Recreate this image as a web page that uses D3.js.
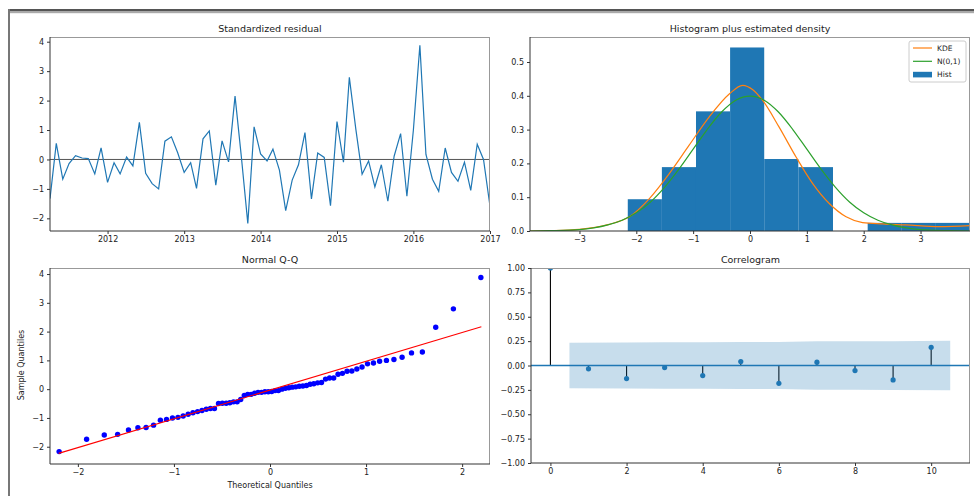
<!DOCTYPE html>
<html lang="en">
<head>
<meta charset="utf-8">
<title>Residual diagnostics</title>
<style>
  body { margin: 0; background: #fff; }
  text { font-family: "DejaVu Sans", sans-serif; }
</style>
</head>
<body>
<svg id="chart"></svg>
<script src="https://cdn.jsdelivr.net/npm/d3@7"></script>
<script>
// monthly standardized residuals, 2011-04 .. 2017-01
const residuals = [
  -1.33, 0.55, -0.67, -0.14, 0.13, 0.05, 0.03, -0.49, 0.39,
  -0.78, -0.11, -0.49, 0.08, -0.22, 1.26, -0.47, -0.82, -1.00, 0.62, 0.77, 0.23,
  -0.44, -0.11, -0.98, 0.70, 0.97, -0.87, 0.63, -0.08, 2.15, 0.10, -2.17, 1.11,
  0.19, -0.05, 0.35, -0.36, -1.74, -0.70, -0.18, 0.91, -1.34, 0.22, 0.07, -1.57,
  1.29, -0.09, 2.79, 1.03, -0.50, -0.05, -0.93, -0.18, -1.42, 0.11, 0.88, -1.25,
  1.00, 3.88, 0.17, -0.67, -1.08, 0.39, -0.44, -0.74, -0.09, -1.05, 0.52, 0.00,
  -1.59
];
const firstMonth = new Date(2011, 3, 1);
const lastMonth = new Date(2017, 0, 1);
const yearTicks = [2012, 2013, 2014, 2015, 2016, 2017];

// histogram (density)
const histEdges = [-2.15, -1.55, -0.95, -0.35, 0.25, 0.85, 1.46, 2.07, 2.67, 3.27, 3.87];
const histDensity = [0.094, 0.189, 0.354, 0.543, 0.213, 0.189, 0, 0.024, 0.024, 0.024];

const kdeX = [-3.87, -3.5, -3.0, -2.5, -2.12, -1.77, -1.42, -1.07, -0.72, -0.36, -0.13, 0.05,
  0.22, 0.51, 0.81, 1.10, 1.39, 1.69, 1.98, 2.33, 2.74, 3.33, 3.87];
const kdeY = [0.000, 0.001, 0.005, 0.019, 0.042, 0.096, 0.170, 0.254, 0.337, 0.406, 0.431, 0.418,
  0.387, 0.308, 0.219, 0.141, 0.082, 0.042, 0.025, 0.021, 0.018, 0.013, 0.016];

const normX = [-3.87, -3.5, -3.0, -2.75, -2.5, -2.25, -2.0, -1.75, -1.5, -1.25, -1.0, -0.75, -0.5, -0.25, 0,
  0.25, 0.5, 0.75, 1.0, 1.25, 1.5, 1.75, 2.0, 2.25, 2.5, 2.75, 3.0, 3.5, 3.87];
const normY = [0.000, 0.001, 0.004, 0.009, 0.018, 0.032, 0.054, 0.086, 0.130, 0.183, 0.242, 0.301, 0.352, 0.387, 0.399,
  0.387, 0.352, 0.301, 0.242, 0.183, 0.130, 0.086, 0.054, 0.032, 0.018, 0.009, 0.004, 0.001, 0.000];

// Q-Q
const qqTheoretical = [
  -2.195, -1.909, -1.725, -1.586, -1.473, -1.375, -1.290, -1.212, -1.141, -1.077,
  -1.015, -0.958, -0.904, -0.852, -0.802, -0.754, -0.708, -0.663, -0.620, -0.578,
  -0.536, -0.496, -0.456, -0.418, -0.380, -0.342, -0.305, -0.268, -0.232, -0.196,
  -0.160, -0.124, -0.088, -0.053, -0.018, 0.018, 0.053, 0.088, 0.124, 0.160,
  0.196, 0.232, 0.268, 0.305, 0.342, 0.380, 0.418, 0.456, 0.496, 0.536,
  0.578, 0.620, 0.663, 0.708, 0.754, 0.802, 0.852, 0.904, 0.958, 1.015,
  1.077, 1.141, 1.212, 1.290, 1.375, 1.473, 1.586, 1.725, 1.909, 2.195
];
const qqLineX = [-2.2, 2.2];
const qqLineY = [-2.23, 2.17];

// correlogram
const acfLags = [0, 1, 2, 3, 4, 5, 6, 7, 8, 9, 10];
const acfValues = [1.0, -0.034, -0.134, -0.021, -0.103, 0.041, -0.183, 0.034, -0.052, -0.148, 0.186];
const confLags = [0.5, 2, 3, 4, 5, 6, 7, 8, 9, 10.5];
const confBound = [0.234, 0.235, 0.239, 0.239, 0.241, 0.242, 0.249, 0.249, 0.250, 0.255];

const C0 = "#1f77b4", C1 = "#ff7f0e", C2 = "#2ca02c";

const svg = d3.select("#chart").attr("width", 974).attr("height", 496);

// window frame
svg.append("rect").attr("x", 8).attr("y", 9).attr("width", 966).attr("height", 2.5).attr("fill", "#555");
svg.append("rect").attr("x", 8).attr("y", 12).attr("width", 966).attr("height", 1.2).attr("fill", "#aaa");
svg.append("rect").attr("x", 8).attr("y", 9).attr("width", 2).attr("height", 487).attr("fill", "#777");

let clipId = 0;
function panel(box, title) {
  const g = svg.append("g").attr("transform", `translate(${box.x},${box.y})`);
  g.append("text").attr("x", box.w / 2).attr("y", -5).attr("text-anchor", "middle")
    .attr("font-size", 9.5).attr("fill", "#222").text(title);
  const id = "clip" + (clipId++);
  g.append("clipPath").attr("id", id).append("rect").attr("width", box.w).attr("height", box.h);
  const plot = g.append("g").attr("clip-path", `url(#${id})`);
  return { g, plot };
}

function styleAxis(sel) {
  sel.select(".domain").remove();
  sel.selectAll(".tick line").attr("stroke", "#333");
  sel.selectAll(".tick text").attr("fill", "#222").attr("font-size", 8)
    .attr("font-family", "DejaVu Sans, sans-serif");
}

function axes(p, box, xAxis, yAxis) {
  p.g.append("g").attr("transform", `translate(0,${box.h})`).call(xAxis.tickSize(3).tickPadding(2.5)).call(styleAxis);
  p.g.append("g").call(yAxis.tickSize(3).tickPadding(3)).call(styleAxis);
  p.g.append("line").attr("x1", 0).attr("x2", box.w).attr("y1", 0.5).attr("y2", 0.5).attr("stroke", "#999");
  p.g.append("line").attr("x1", box.w - 0.5).attr("x2", box.w - 0.5).attr("y1", 0).attr("y2", box.h).attr("stroke", "#999");
  p.g.append("line").attr("x1", 0).attr("x2", box.w).attr("y1", box.h).attr("y2", box.h).attr("stroke", "#333");
  p.g.append("line").attr("x1", 0).attr("x2", 0).attr("y1", 0).attr("y2", box.h).attr("stroke", "#333");
}

// ---- standardized residual ----
{
  const box = { x: 50, y: 37, w: 440, h: 194 };
  const p = panel(box, "Standardized residual");
  const months = d3.timeMonth.range(firstMonth, d3.timeMonth.offset(lastMonth, 1));
  const x = d3.scaleTime().domain([firstMonth, lastMonth]).range([0, box.w]);
  const y = d3.scaleLinear().domain([-2.43, 4.16]).range([box.h, 0]);
  p.plot.append("line").attr("x1", 0).attr("x2", box.w).attr("y1", y(0)).attr("y2", y(0))
    .attr("stroke", "#555").attr("stroke-width", 1);
  p.plot.append("path").datum(residuals)
    .attr("d", d3.line().x((d, i) => x(months[i])).y(d => y(d)))
    .attr("fill", "none").attr("stroke", C0).attr("stroke-width", 1.2);
  axes(p, box,
    d3.axisBottom(x).tickValues(yearTicks.map(yr => new Date(yr, 0, 1))).tickFormat(d3.timeFormat("%Y")),
    d3.axisLeft(y).tickValues([-2, -1, 0, 1, 2, 3, 4]).tickFormat(d3.format("d")));
}

// ---- histogram plus estimated density ----
{
  const box = { x: 530, y: 37, w: 440, h: 194 };
  const p = panel(box, "Histogram plus estimated density");
  const x = d3.scaleLinear().domain([-3.87, 3.87]).range([0, box.w]);
  const y = d3.scaleLinear().domain([0, 0.574]).range([box.h, 0]);
  p.plot.selectAll("rect.bar").data(histDensity).join("rect").attr("class", "bar")
    .attr("x", (d, i) => x(histEdges[i]))
    .attr("width", (d, i) => x(histEdges[i + 1]) - x(histEdges[i]))
    .attr("y", d => y(d)).attr("height", d => y(0) - y(d))
    .attr("fill", C0);
  const line = d3.line().curve(d3.curveMonotoneX);
  p.plot.append("path").attr("d", line(kdeX.map((v, i) => [x(v), y(kdeY[i])])))
    .attr("fill", "none").attr("stroke", C1).attr("stroke-width", 1.2);
  p.plot.append("path").attr("d", line(normX.map((v, i) => [x(v), y(normY[i])])))
    .attr("fill", "none").attr("stroke", C2).attr("stroke-width", 1.2);
  axes(p, box,
    d3.axisBottom(x).tickValues([-3, -2, -1, 0, 1, 2, 3]).tickFormat(d3.format("d")),
    d3.axisLeft(y).tickValues([0, 0.1, 0.2, 0.3, 0.4, 0.5]).tickFormat(d3.format(".1f")));

  const lg = p.g.append("g").attr("transform", `translate(${379},${4})`);
  lg.append("rect").attr("width", 57).attr("height", 41).attr("rx", 2)
    .attr("fill", "#fff").attr("fill-opacity", 0.8).attr("stroke", "#ccc");
  const items = [["KDE", C1, "line"], ["N(0,1)", C2, "line"], ["Hist", C0, "patch"]];
  items.forEach((it, i) => {
    const cy = 7 + i * 13.3;
    if (it[2] === "line") {
      lg.append("line").attr("x1", 4).attr("x2", 23).attr("y1", cy).attr("y2", cy)
        .attr("stroke", it[1]).attr("stroke-width", 1.2);
    } else {
      lg.append("rect").attr("x", 4).attr("y", cy - 2.8).attr("width", 19).attr("height", 5.6).attr("fill", it[1]);
    }
    lg.append("text").attr("x", 28).attr("y", cy).attr("dy", "0.35em")
      .attr("font-size", 7.5).attr("fill", "#222").text(it[0]);
  });
}

// ---- normal Q-Q ----
{
  const box = { x: 50, y: 268, w: 440, h: 196 };
  const p = panel(box, "Normal Q-Q");
  const x = d3.scaleLinear().domain([-2.29, 2.29]).range([0, box.w]);
  const y = d3.scaleLinear().domain([-2.6, 4.21]).range([box.h, 0]);
  const sample = d3.sort(residuals);
  p.plot.selectAll("circle").data(sample).join("circle")
    .attr("cx", (d, i) => x(qqTheoretical[i])).attr("cy", d => y(d)).attr("r", 2.7)
    .attr("fill", "#0000ff");
  p.plot.append("line").attr("x1", x(qqLineX[0])).attr("y1", y(qqLineY[0]))
    .attr("x2", x(qqLineX[1])).attr("y2", y(qqLineY[1]))
    .attr("stroke", "#ff0000").attr("stroke-width", 1.1);
  axes(p, box,
    d3.axisBottom(x).tickValues([-2, -1, 0, 1, 2]).tickFormat(d3.format("d")),
    d3.axisLeft(y).tickValues([-2, -1, 0, 1, 2, 3, 4]).tickFormat(d3.format("d")));
  p.g.append("text").attr("x", box.w / 2).attr("y", box.h + 24).attr("text-anchor", "middle")
    .attr("font-size", 8).attr("fill", "#222").text("Theoretical Quantiles");
  p.g.append("text").attr("transform", `translate(-26,${box.h / 2 - 1}) rotate(-90)`)
    .attr("text-anchor", "middle").attr("font-size", 8).attr("fill", "#222").text("Sample Quantiles");
}

// ---- correlogram ----
{
  const box = { x: 531, y: 268, w: 439, h: 195 };
  const p = panel(box, "Correlogram");
  const x = d3.scaleLinear().domain([-0.51, 11.02]).range([0, box.w]);
  const y = d3.scaleLinear().domain([-1, 1]).range([box.h, 0]);
  p.plot.selectAll("line.stem").data(acfValues).join("line").attr("class", "stem")
    .attr("x1", (d, i) => x(acfLags[i])).attr("x2", (d, i) => x(acfLags[i]))
    .attr("y1", y(0)).attr("y2", d => y(d)).attr("stroke", "#000").attr("stroke-width", 1.1);
  p.plot.append("line").attr("x1", 0).attr("x2", box.w).attr("y1", y(0)).attr("y2", y(0))
    .attr("stroke", C0).attr("stroke-width", 1.3);
  p.plot.selectAll("circle").data(acfValues).join("circle")
    .attr("cx", (d, i) => x(acfLags[i])).attr("cy", d => y(d)).attr("r", 2.6).attr("fill", C0);
  p.plot.append("path").datum(confLags)
    .attr("d", d3.area().x(d => x(d)).y0((d, i) => y(-confBound[i])).y1((d, i) => y(confBound[i])))
    .attr("fill", C0).attr("fill-opacity", 0.25);
  axes(p, box,
    d3.axisBottom(x).tickValues([0, 2, 4, 6, 8, 10]).tickFormat(d3.format("d")),
    d3.axisLeft(y).tickValues(d3.range(-1, 1.01, 0.25)).tickFormat(d3.format(".2f")));
}
</script>
</body>
</html>
